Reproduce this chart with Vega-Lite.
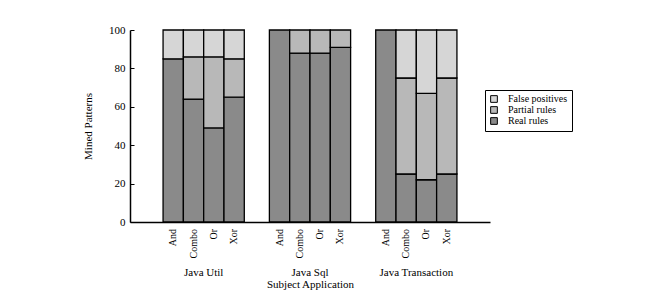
{
  "$schema": "https://vega.github.io/schema/vega-lite/v6.json",
  "autosize": {"type": "none"},
  "padding": {"left": 130, "top": 30, "right": 174, "bottom": 68},
  "width": 360,
  "height": 192,
  "background": "white",
  "config": {
    "font": "Liberation Serif",
    "view": {"stroke": null},
    "axis": {"labelFont": "Liberation Serif", "titleFont": "Liberation Serif", "labelColor": "black", "titleColor": "black", "titleFontWeight": "normal", "grid": false, "domainColor": "black", "tickColor": "black"},
    "axisY": {"tickSize": -4, "labelPadding": 9, "labelFontSize": 11, "titleFontSize": 11, "titlePadding": 15, "domainWidth": 1.5, "labelOverlap": false, "labelFlush": false, "labelBound": false}
  },
  "data": {
    "values": [
      {"app": "Java Util", "type": "And", "category": "Real rules", "value": 85},
      {"app": "Java Util", "type": "And", "category": "False positives", "value": 15},
      {"app": "Java Util", "type": "Combo", "category": "Real rules", "value": 64},
      {"app": "Java Util", "type": "Combo", "category": "Partial rules", "value": 22},
      {"app": "Java Util", "type": "Combo", "category": "False positives", "value": 14},
      {"app": "Java Util", "type": "Or", "category": "Real rules", "value": 49},
      {"app": "Java Util", "type": "Or", "category": "Partial rules", "value": 37},
      {"app": "Java Util", "type": "Or", "category": "False positives", "value": 14},
      {"app": "Java Util", "type": "Xor", "category": "Real rules", "value": 65},
      {"app": "Java Util", "type": "Xor", "category": "Partial rules", "value": 20},
      {"app": "Java Util", "type": "Xor", "category": "False positives", "value": 15},
      {"app": "Java Sql", "type": "And", "category": "Real rules", "value": 100},
      {"app": "Java Sql", "type": "Combo", "category": "Real rules", "value": 88},
      {"app": "Java Sql", "type": "Combo", "category": "Partial rules", "value": 12},
      {"app": "Java Sql", "type": "Or", "category": "Real rules", "value": 88},
      {"app": "Java Sql", "type": "Or", "category": "Partial rules", "value": 12},
      {"app": "Java Sql", "type": "Xor", "category": "Real rules", "value": 91},
      {"app": "Java Sql", "type": "Xor", "category": "Partial rules", "value": 9},
      {"app": "Java Transaction", "type": "And", "category": "Real rules", "value": 100},
      {"app": "Java Transaction", "type": "Combo", "category": "Real rules", "value": 25},
      {"app": "Java Transaction", "type": "Combo", "category": "Partial rules", "value": 50},
      {"app": "Java Transaction", "type": "Combo", "category": "False positives", "value": 25},
      {"app": "Java Transaction", "type": "Or", "category": "Real rules", "value": 22},
      {"app": "Java Transaction", "type": "Or", "category": "Partial rules", "value": 45},
      {"app": "Java Transaction", "type": "Or", "category": "False positives", "value": 33},
      {"app": "Java Transaction", "type": "Xor", "category": "Real rules", "value": 25},
      {"app": "Java Transaction", "type": "Xor", "category": "Partial rules", "value": 50},
      {"app": "Java Transaction", "type": "Xor", "category": "False positives", "value": 25}
    ]
  },
  "encoding": {
    "x": {
      "field": "app", "type": "nominal",
      "sort": ["Java Util", "Java Sql", "Java Transaction"],
      "scale": {"paddingInner": 0.236, "paddingOuter": 0.311},
      "axis": {"title": "Subject Application", "labelAngle": 0, "ticks": false, "labelPadding": 44, "labelFontSize": 11, "titleFontSize": 11, "titlePadding": 1, "domainWidth": 1.5}
    },
    "xOffset": {"field": "type", "type": "nominal", "sort": ["And", "Combo", "Or", "Xor"], "scale": {"paddingInner": 0, "paddingOuter": 0}}
  },
  "layer": [
    {
      "mark": {"type": "bar", "stroke": "black", "strokeWidth": 1.3},
      "encoding": {
        "y": {
          "field": "value", "type": "quantitative", "stack": true,
          "scale": {"domain": [0, 100]},
          "axis": {"title": "Mined Patterns", "values": [0, 20, 40, 60, 80, 100]}
        },
        "color": {
          "field": "category", "type": "nominal",
          "scale": {"domain": ["False positives", "Partial rules", "Real rules"], "range": ["#d6d6d6", "#b8b8b8", "#8a8a8a"]},
          "legend": {"title": null, "orient": "none", "legendX": 355, "legendY": 60, "labelFontSize": 10, "labelFont": "Liberation Serif", "labelColor": "black", "symbolType": "square", "symbolSize": 45, "symbolStrokeColor": "black", "symbolStrokeWidth": 1, "strokeColor": "black", "padding": 4, "rowPadding": -1, "labelOffset": 9, "fillColor": "white"}
        },
        "order": {"field": "category", "sort": "descending"}
      }
    },
    {
      "transform": [{"filter": "datum.category === 'Real rules'"}],
      "mark": {"type": "text", "angle": 270, "align": "right", "baseline": "middle", "dx": -7, "fontSize": 10, "font": "Liberation Serif", "color": "black"},
      "encoding": {
        "y": {"datum": 0, "axis": {"title": "Mined Patterns", "values": [0, 20, 40, 60, 80, 100]}},
        "text": {"field": "type"}
      }
    }
  ]
}
